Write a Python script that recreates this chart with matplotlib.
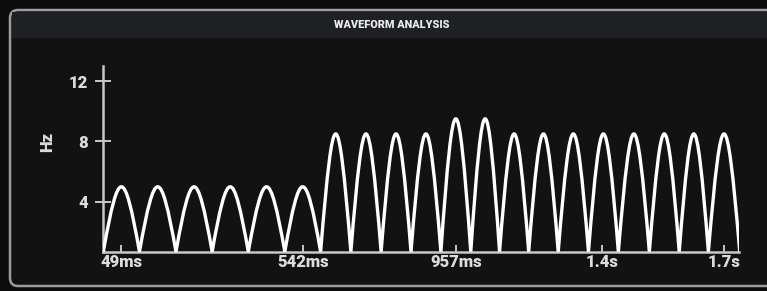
import matplotlib
matplotlib.use("Agg")
import matplotlib.pyplot as plt
from matplotlib.path import Path
from matplotlib.patches import PathPatch, FancyBboxPatch, Rectangle
from matplotlib.transforms import IdentityTransform

# data
valley_ms = [0, 98, 197, 295, 393, 492, 589, 671, 753, 834, 915, 996,
             1074, 1153, 1233, 1315, 1396, 1480, 1561, 1640, 1725]
peak_hz = [5.0, 5.0, 5.0, 5.0, 5.0, 5.0,
           8.5, 8.5, 8.5, 8.5, 9.5, 9.5, 8.5, 8.5,
           8.5, 8.5, 8.5, 8.5, 8.5, 8.5]
base_hz = 0.7
xtick_ms = [49, 542, 957, 1353, 1682]
xtick_labels = ["49ms", "542ms", "957ms", "1.4s", "1.7s"]
ytick_hz = [4, 8, 12]

W, H = 767, 291
fig = plt.figure(figsize=(W / 100, H / 100), dpi=100)
fig.patch.set_facecolor("#0b0b0b")

# panel + header (pixel coords, origin bottom-left)
panel = FancyBboxPatch((10, H - 286), 790, 276,
                       boxstyle="round,pad=0,rounding_size=8",
                       facecolor="#121212", edgecolor="#9c9c9c", lw=1.8,
                       transform=IdentityTransform(), zorder=0)
fig.add_artist(panel)
header = Rectangle((12, H - 38), 760, 26, facecolor="#1f2024",
                   edgecolor="none", transform=IdentityTransform(), zorder=1)
fig.add_artist(header)
fig.text(392 / W, 1 - 25 / H, "WAVEFORM ANALYSIS", ha="center", va="center",
         fontfamily="Roboto", fontweight=900, fontsize=7.8, color="#ececec")

ax = fig.add_axes([103.3 / W, 1 - 251.7 / H, (739 - 103.3) / W, (251.7 - 66) / H])
ax.set_facecolor("none")
ax.set_xlim(0, 1723)
ax.set_ylim(base_hz, 13)

# each cycle drawn as a half-sine shaped bezier between valleys
verts = [(valley_ms[0], base_hz)]
codes = [Path.MOVETO]
for i, p in enumerate(peak_hz):
    t0, t1 = valley_ms[i], valley_ms[i + 1]
    w = t1 - t0
    h = base_hz + (p - base_hz) * 4 / 3
    verts += [(t0 + 0.4244 * w, h), (t1 - 0.4244 * w, h), (t1, base_hz)]
    codes += [Path.CURVE4] * 3
ax.add_patch(PathPatch(Path(verts, codes), fill=False, edgecolor="white",
                       lw=2.4, joinstyle="miter", capstyle="butt", zorder=3))

for s in ["top", "right"]:
    ax.spines[s].set_visible(False)
for s in ["left", "bottom"]:
    ax.spines[s].set_color("#c8c8c8")
    ax.spines[s].set_linewidth(1.8)

ax.set_yticks(ytick_hz)
ax.set_xticks(xtick_ms)
ax.set_xticklabels(xtick_labels)
ax.tick_params(axis="y", direction="inout", length=12, width=1.4,
               colors="#c8c8c8", labelcolor="#dcdcdc", pad=5)
ax.tick_params(axis="x", direction="in", length=5, width=1.4,
               colors="#c8c8c8", labelcolor="#dcdcdc", pad=2)
for lab in ax.get_xticklabels() + ax.get_yticklabels():
    lab.set_fontfamily("Roboto")
    lab.set_fontweight(900)
    lab.set_fontsize(12)

fig.text(47 / W, 1 - 142 / H, "Hz", rotation=90, ha="center", va="center",
         fontfamily="Roboto", fontweight=900, fontsize=12, color="#dcdcdc")

fig.savefig("out.png", dpi=100, facecolor=fig.get_facecolor())
